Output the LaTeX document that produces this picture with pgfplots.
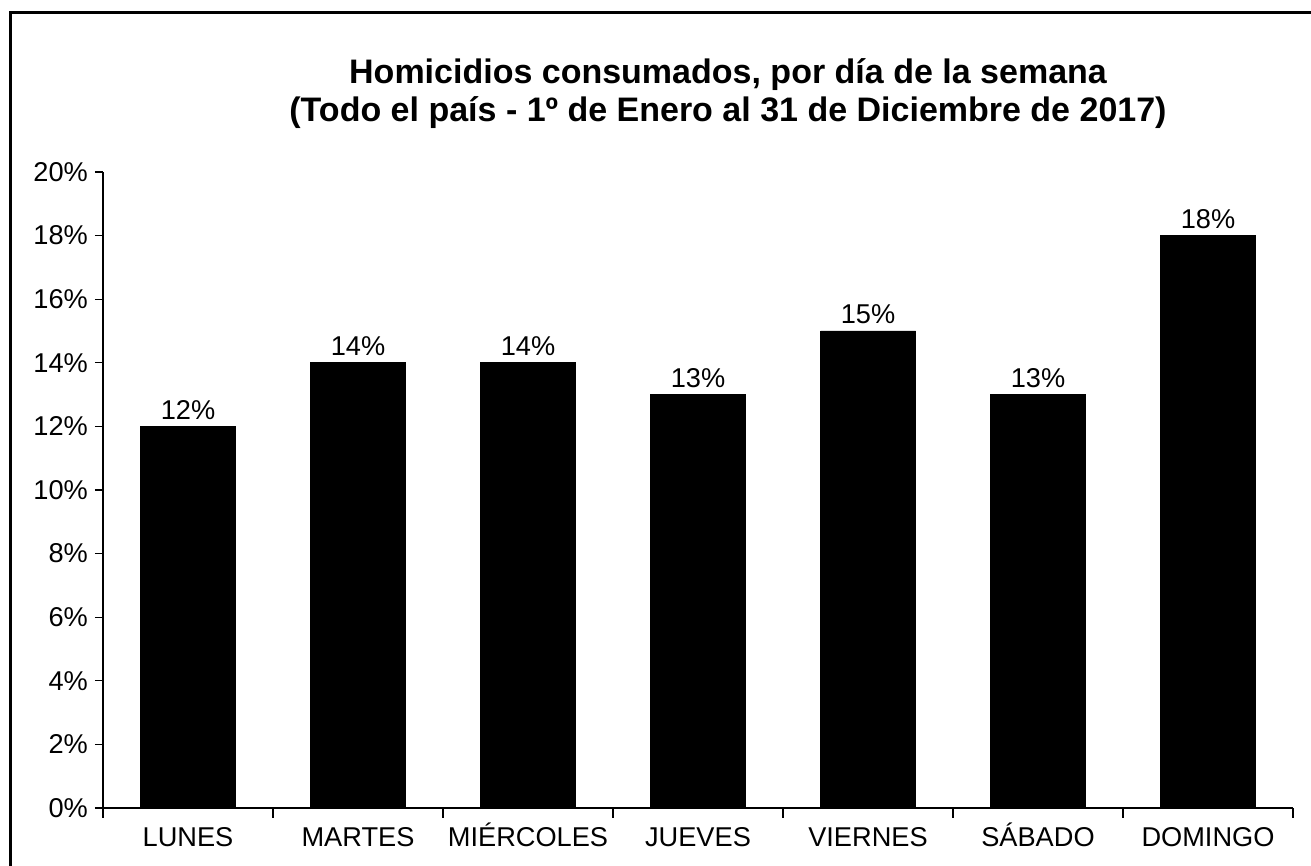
\documentclass[border=0pt]{standalone}
\usepackage{fontspec}
\setmainfont{Liberation Sans}
\usepackage{pgfplots}
\pgfplotsset{compat=1.18}
\begin{document}
\begin{tikzpicture}
\useasboundingbox (0,0) rectangle (655.5pt,433pt);
\draw[line width=1.5pt] (5pt,-20pt) -- (5pt,426.5pt) -- (680pt,426.5pt);
\node[align=center, font=\bfseries\fontsize{17}{19}\selectfont] at (364pt,386pt)
  {Homicidios consumados, por día de la semana\\(Todo el país - 1º de Enero al 31 de Diciembre de 2017)};
\begin{axis}[
  at={(51.5pt,29pt)}, anchor=south west,
  scale only axis, width=595pt, height=318pt,
  xmin=0.5, xmax=7.5, ymin=0, ymax=20,
  axis x line*=bottom, axis y line*=left,
  axis line style={line width=0.6pt},
  every tick/.style={black, line width=0.6pt},
  ybar, bar width=47.5pt,
  xtick={1,...,7},
  xticklabels={LUNES,MARTES,MIÉRCOLES,JUEVES,VIERNES,SÁBADO,DOMINGO},
  major x tick style={draw=none},
  minor xtick={0.5,1.5,...,7.5},
  ytick={0,2,...,20},
  yticklabel={\pgfmathprintnumber{\tick}\%},
  /pgf/number format/assume math mode=true,
  tick align=outside,
  major tick length=4pt, minor tick length=5pt,
  tick label style={font=\fontsize{13.6}{15}\selectfont},
  xticklabel style={anchor=base, yshift=-15.5pt},
  nodes near coords={\pgfmathprintnumber{\pgfplotspointmeta}\%},
  nodes near coords style={font=\fontsize{13.6}{15}\selectfont, black},
]
\addplot[fill=black, draw=black] coordinates {(1,12) (2,14) (3,14) (4,13) (5,15) (6,13) (7,18)};
\end{axis}
\end{tikzpicture}
\end{document}
